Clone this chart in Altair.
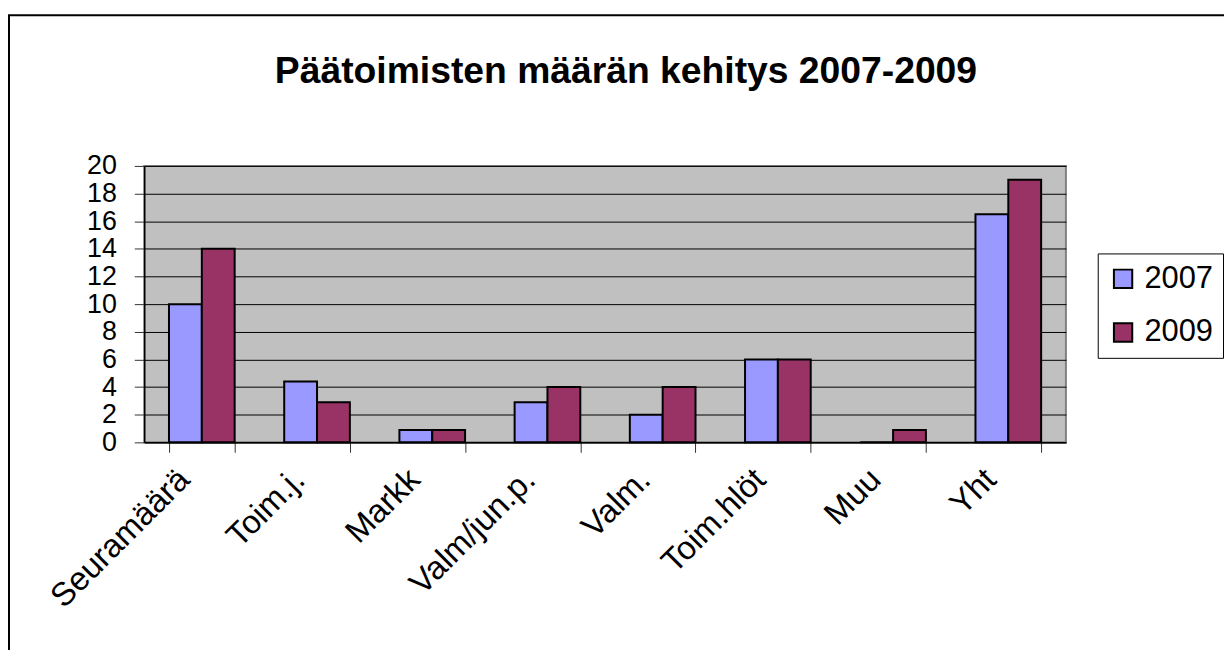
import altair as alt
import pandas as pd

categories = ["Seuramäärä", "Toim.j.", "Markk", "Valm/jun.p.", "Valm.", "Toim.hlöt", "Muu", "Yht"]
values_2007 = [10, 4.4, 0.9, 2.9, 2, 6, 0, 16.5]
values_2009 = [14, 2.9, 0.9, 4, 4, 6, 0.9, 19]
years = ["2007", "2009"]
colors = ["#9999FF", "#993366"]
y_ticks = list(range(0, 21, 2))
title_text = "Päätoimisten määrän kehitys 2007-2009"

rows = []
for c, a, b in zip(categories, values_2007, values_2009):
    rows.append({"cat": c, "year": "2007", "value": a})
    rows.append({"cat": c, "year": "2009", "value": b})
df = pd.DataFrame(rows)

W, H = 927, 278
PL, PT = 137, 157
PR = 1223 - PL - W
PB = 642 - PT - H

FONT = "Liberation Sans"

bars = alt.Chart(df).mark_bar(stroke="black", strokeWidth=2).encode(
    x=alt.X("cat:N", sort=categories, title=None,
            scale=alt.Scale(paddingInner=0.43, paddingOuter=0.215),
            axis=alt.Axis(labelAngle=-45, labelAlign="right", labelBaseline="middle",
                          labelFontSize=33, labelPadding=22, labelOffset=-18,
                          labelLimit=500, labelOverlap=False,
                          tickBand="extent", tickSize=10, tickColor="#333",
                          domainColor="#000", domainWidth=1.5, labelColor="#000",
                          labelFont=FONT, grid=False)),
    xOffset=alt.XOffset("year:N", sort=years,
                        scale=alt.Scale(paddingInner=0, paddingOuter=0)),
    y=alt.Y("value:Q", title=None,
            scale=alt.Scale(domain=[0, 20], nice=False),
            axis=alt.Axis(values=y_ticks, labelFontSize=27, labelFont=FONT,
                          labelColor="#000", labelPadding=18, tickSize=10,
                          tickColor="#333", domainColor="#000", domainWidth=1.5,
                          grid=True, gridColor="#000", gridWidth=1)),
    color=alt.Color("year:N", scale=alt.Scale(domain=years, range=colors),
                    legend=alt.Legend(title=None, orient="none", legendX=959, legendY=88,
                                      symbolType="square", symbolSize=340,
                                      symbolStrokeColor="black", symbolStrokeWidth=2,
                                      labelFontSize=31, labelFont=FONT, labelColor="#000",
                                      labelOffset=6, rowPadding=22, padding=10,
                                      strokeColor="black", fillColor="white")),
)

frame_df = pd.DataFrame({"k": [0]})
frame_left = alt.Chart(frame_df).mark_rule(color="black", strokeWidth=2).encode(
    x=alt.value(-136), y=alt.value(-151.5), y2=alt.value(600))
frame_top = alt.Chart(frame_df).mark_rule(color="black", strokeWidth=2).encode(
    x=alt.value(-137), x2=alt.value(1200), y=alt.value(-151.5))

chart = alt.layer(frame_left, frame_top, bars).properties(
    width=W, height=H,
    title=alt.TitleParams(title_text, fontSize=37.5, fontWeight="bold", font=FONT,
                          color="#000", anchor="middle", offset=0, dx=21, dy=77),
    autosize=alt.AutoSizeParams(type="none"),
    padding={"left": PL, "top": PT, "right": PR, "bottom": PB},
    background="white",
).configure_view(
    fill="#C0C0C0", stroke="#808080", strokeWidth=2
)

chart.save("out.html", embed_options={"renderer": "svg", "actions": False})
